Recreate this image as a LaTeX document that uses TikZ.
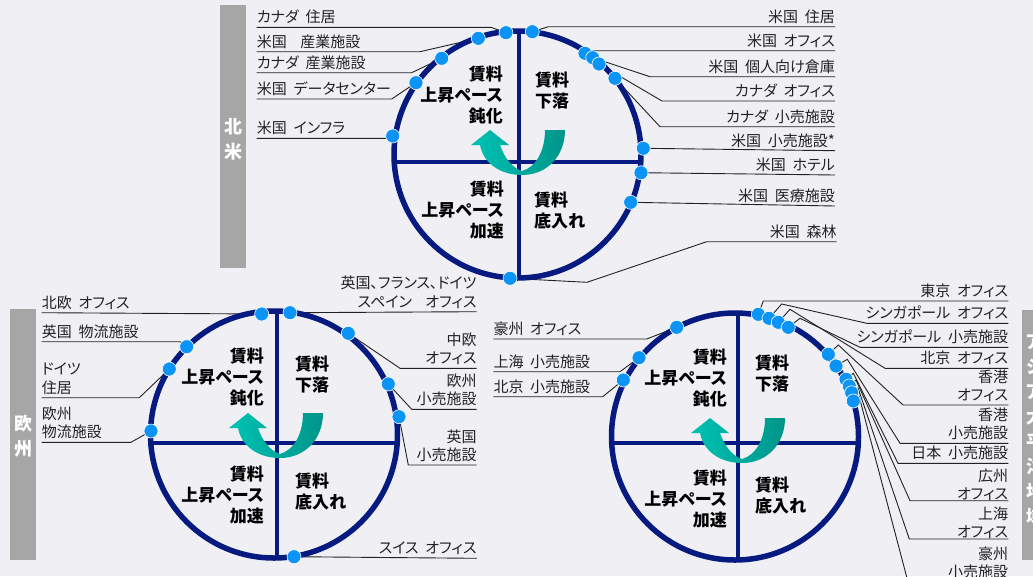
\documentclass[tikz,border=0pt]{standalone}
\usepackage{fontspec}
\setmainfont{Noto Sans CJK JP}[RawFeature=+palt,WordSpace=2]
\usepackage{tikz}
\definecolor{customNavy}{HTML}{061A80}
\definecolor{customDot}{HTML}{0B93F6}
\definecolor{customTealLight}{HTML}{00C2B3}
\definecolor{customTealDark}{HTML}{00958A}
\definecolor{customGrey}{HTML}{A6A6A6}
\definecolor{customBack}{HTML}{F0F0F4}
\definecolor{customText}{HTML}{222222}
\pgfdeclarelayer{back}
\pgfdeclarelayer{wires}
\pgfsetlayers{back,wires,main}

\begin{document}
\begin{tikzpicture} [
    x=1pt, y=-1pt,
    ring/.style={draw=customNavy, line width=5.5pt},
    axis/.style={draw=customNavy, line width=4.5pt},
    asset/.style={circle, fill=customDot, draw=white, line width=0.6pt, inner sep=0pt, minimum size=14pt},
    leader/.style={draw=customText, line width=0.9pt},
    leftLabel/.style={anchor=south west, inner xsep=0pt, inner ysep=4.5pt, text depth=0pt, align=left, font=\fontsize{15}{18.3}\selectfont, text=customText},
    rightLabel/.style={leftLabel, anchor=south east, align=right},
    phase/.style={font=\bfseries\fontsize{17}{21}\selectfont, inner sep=0pt, text=black},
    phaseLeft/.style={phase, anchor=east, align=right},
    phaseRight/.style={phase, anchor=west, align=left},
    regionName/.style={text=white, font=\bfseries\fontsize{18}{25}\selectfont, align=center, inner sep=0pt},
    turnArrow/.pic={
        \shade[left color=customTealLight, right color=customTealDark]
            (26,-30) -- (46,-30) .. controls (46,-4) and (28,15) .. (3,15)
            .. controls (-20,15) and (-36,2) .. (-39,-15) -- (-48,-15) -- (-29,-30)
            -- (-10,-15) -- (-19,-15) .. controls (-15,-3) and (-7,8) .. (3,11)
            .. controls (17,7) and (26,-9) .. (26,-30) -- cycle;
    }
]
    \useasboundingbox (0,0) rectangle (1033,576);
    \clip (0,0) rectangle (1033,576);
    \begin{pgfonlayer}{back}
        \fill[customBack] (0,0) rectangle (1033,576);
    \end{pgfonlayer}

    % north america
    \fill[customGrey] (220,5) rectangle (246,268);
    \node[regionName] (naName) at (233,139.5) {北\\米};

    \draw[ring] (517.5,154.5) circle [radius=123.5pt];
    \draw[axis] (519,31) -- (519,278);
    \draw[axis] (394.2,162) -- (640.8,162);
    \pic at (519,160) {turnArrow};

    \node[phaseLeft] (naSlow) at (503,95) {賃料\\上昇ペース\\鈍化};
    \node[phaseRight] (naFall) at (535,91) {賃料\\下落};
    \node[phaseLeft] (naFast) at (504,210) {賃料\\上昇ペース\\加速};
    \node[phaseRight] (naBottom) at (534,211) {賃料\\底入れ};

    \node[asset] (naDot1) at (506,32.7) {};
    \node[asset] (naDot2) at (478.3,38.3) {};
    \node[asset] (naDot3) at (441.7,58.3) {};
    \node[asset] (naDot4) at (416,82.7) {};
    \node[asset] (naDot5) at (392.7,136) {};
    \node[asset] (naDot6) at (532.3,31.7) {};
    \node[asset] (naDot7) at (585,53.3) {};
    \node[asset] (naDot8) at (592.7,57.7) {};
    \node[asset] (naDot9) at (599,64) {};
    \node[asset] (naDot10) at (615,78.3) {};
    \node[asset] (naDot11) at (643.3,148.3) {};
    \node[asset] (naDot12) at (641,172.7) {};
    \node[asset] (naDot13) at (630.7,202.3) {};
    \node[asset] (naDot14) at (510,278.3) {};

    \node[leftLabel] (naLabel1) at (256.7,27.3) {カナダ 住居};
    \node[leftLabel] (naLabel2) at (256.7,51.7) {米国\ \ 産業施設};
    \node[leftLabel] (naLabel3) at (256.7,72.7) {カナダ 産業施設};
    \node[leftLabel] (naLabel4) at (256.7,99) {米国 データセンター};
    \node[leftLabel] (naLabel5) at (256.7,138.3) {米国 インフラ};
    \node[rightLabel] (naLabel6) at (835,26.7) {米国 住居};
    \node[rightLabel] (naLabel7) at (835,50.7) {米国 オフィス};
    \node[rightLabel] (naLabel8) at (835,76.7) {米国 個人向け倉庫};
    \node[rightLabel] (naLabel9) at (835,101) {カナダ オフィス};
    \node[rightLabel] (naLabel10) at (835,126.7) {カナダ 小売施設};
    \node[rightLabel] (naLabel11) at (835,150.7) {米国 小売施設*};
    \node[rightLabel] (naLabel12) at (835,175) {米国 ホテル};
    \node[rightLabel] (naLabel13) at (835,206) {米国 医療施設};
    \node[rightLabel] (naLabel14) at (836.7,241.7) {米国 森林};

    \begin{pgfonlayer}{wires}
        \draw[leader] (naDot1.center) -- (491,27.3) -- (naLabel1.south west);
        \draw[leader] (naDot2.center) -- (420,51.7) -- (naLabel2.south west);
        \draw[leader] (naDot3.center) -- (411.7,72.7) -- (naLabel3.south west);
        \draw[leader] (naDot4.center) -- (391.7,99) -- (naLabel4.south west);
        \draw[leader] (naDot5.center) -- (386.7,138.3) -- (naLabel5.south west);
        \draw[leader] (naDot6.center) -- (548.3,26.7) -- (naLabel6.south east);
        \draw[leader] (naDot7.center) -- (590,50.7) -- (naLabel7.south east);
        \draw[leader] (naDot8.center) -- (650,76.7) -- (naLabel8.south east);
        \draw[leader] (naDot9.center) -- (662,101) -- (naLabel9.south east);
        \draw[leader] (naDot10.center) -- (660,126.7) -- (naLabel10.south east);
        \draw[leader] (naDot11.center) -- (naLabel11.south east);
        \draw[leader] (naDot12.center) -- (naLabel12.south east);
        \draw[leader] (naDot13.center) -- (naLabel13.south east);
        \draw[leader] (naDot14.center) -- (587,282.3) -- (706.7,241.7) -- (naLabel14.south east);
    \end{pgfonlayer}

    % europe
    \fill[customGrey] (10,309) rectangle (36,560);
    \node[regionName] (euName) at (23,436.5) {欧\\州};

    \draw[ring] (274,434.5) circle [radius=123.5pt];
    \draw[axis] (277,311) -- (277,558);
    \draw[axis] (150.8,443) -- (397.2,443);
    \pic at (277,443) {turnArrow};

    \node[phaseLeft] (euSlow) at (264,377) {賃料\\上昇ペース\\鈍化};
    \node[phaseRight] (euFall) at (295,375) {賃料\\下落};
    \node[phaseLeft] (euFast) at (264,495) {賃料\\上昇ペース\\加速};
    \node[phaseRight] (euBottom) at (295,492) {賃料\\底入れ};

    \node[asset] (euDot1) at (261.7,314) {};
    \node[asset] (euDot2) at (186.7,346.7) {};
    \node[asset] (euDot3) at (169.3,369) {};
    \node[asset] (euDot4) at (151,431) {};
    \node[asset] (euDot5) at (290,312.7) {};
    \node[asset] (euDot6) at (348.3,333.3) {};
    \node[asset] (euDot7) at (388.3,384) {};
    \node[asset] (euDot8) at (399,416.7) {};
    \node[asset] (euDot9) at (294,556.7) {};

    \node[leftLabel] (euLabel1) at (41.7,312.7) {北欧 オフィス};
    \node[leftLabel] (euLabel2) at (41.7,341.7) {英国 物流施設};
    \node[leftLabel] (euLabel3) at (41.7,397.7) {ドイツ\\住居};
    \node[leftLabel] (euLabel4) at (41.7,442.3) {欧州\\物流施設};
    \node[rightLabel] (euLabel5) at (476.7,311.7) {英国、フランス、ドイツ\\スペイン\ \ オフィス};
    \node[rightLabel] (euLabel6) at (476.7,368.3) {中欧\\オフィス};
    \node[rightLabel] (euLabel7) at (476.7,409.3) {欧州\\小売施設};
    \node[rightLabel] (euLabel8) at (476.7,465) {英国\\小売施設};
    \node[rightLabel] (euLabel9) at (476.7,558.3) {スイス オフィス};

    \begin{pgfonlayer}{wires}
        \draw[leader] (euDot1.center) -- (euLabel1.south west);
        \draw[leader] (euDot2.center) -- (180,341.7) -- (euLabel2.south west);
        \draw[leader] (euDot3.center) -- (139.3,397.7) -- (euLabel3.south west);
        \draw[leader] (euDot4.center) -- (131,442.3) -- (euLabel4.south west);
        \draw[leader] (euDot5.center) -- (euLabel5.south east);
        \draw[leader] (euDot6.center) -- (400,368.3) -- (euLabel6.south east);
        \draw[leader] (euDot7.center) -- (411.7,409.3) -- (euLabel7.south east);
        \draw[leader] (euDot8.center) -- (408.3,465) -- (euLabel8.south east);
        \draw[leader] (euDot9.center) -- (euLabel9.south east);
    \end{pgfonlayer}

    % asia pacific
    \fill[customGrey] (1022,310) rectangle (1048,560);
    \node[regionName] (asName) at (1035,430) {ア\\ジ\\ア\\太\\平\\洋\\地\\域};

    \draw[ring] (735,436.5) circle [radius=123.5pt];
    \draw[axis] (738,313) -- (738,560);
    \draw[axis] (611.7,443) -- (858.3,443);
    \pic at (739,448) {turnArrow};

    \node[phaseLeft] (asSlow) at (727,378) {賃料\\上昇ペース\\鈍化};
    \node[phaseRight] (asFall) at (755,374) {賃料\\下落};
    \node[phaseLeft] (asFast) at (727,499) {賃料\\上昇ペース\\加速};
    \node[phaseRight] (asBottom) at (755,496) {賃料\\底入れ};

    \node[asset] (asDot1) at (676.7,327.3) {};
    \node[asset] (asDot2) at (639,357.7) {};
    \node[asset] (asDot3) at (623.3,380) {};
    \node[asset] (asDot4) at (758.3,314.3) {};
    \node[asset] (asDot5) at (769,318.3) {};
    \node[asset] (asDot6) at (778.3,322.3) {};
    \node[asset] (asDot7) at (788.3,327.3) {};
    \node[asset] (asDot8) at (828.3,354.3) {};
    \node[asset] (asDot9) at (836,366) {};
    \node[asset] (asDot10) at (846,379.3) {};
    \node[asset] (asDot11) at (849.3,386) {};
    \node[asset] (asDot12) at (851.7,392.7) {};
    \node[asset] (asDot13) at (853.3,401) {};

    \node[leftLabel] (asLabel1) at (493.3,339) {豪州 オフィス};
    \node[leftLabel] (asLabel2) at (493.3,371.7) {上海 小売施設};
    \node[leftLabel] (asLabel3) at (493.3,396.7) {北京 小売施設};
    \node[rightLabel] (asLabel4) at (1008.3,301) {東京 オフィス};
    \node[rightLabel] (asLabel5) at (1008.3,323.3) {シンガポール オフィス};
    \node[rightLabel] (asLabel6) at (1008.3,347.3) {シンガポール 小売施設};
    \node[rightLabel] (asLabel7) at (1008.3,368.3) {北京 オフィス};
    \node[rightLabel] (asLabel8) at (1008.3,405) {香港\\オフィス};
    \node[rightLabel] (asLabel9) at (1008.3,443.3) {香港\\小売施設};
    \node[rightLabel] (asLabel10) at (1008.3,463.3) {日本 小売施設};
    \node[rightLabel, inner ysep=1pt] (asLabel11) at (1008.3,500.7) {広州\\オフィス};
    \node[rightLabel, inner ysep=1pt] (asLabel12) at (1008.3,539) {上海\\オフィス};
    \node[rightLabel] (asLabel13) at (1008.3,582) {豪州\\小売施設};

    \begin{pgfonlayer}{wires}
        \draw[leader] (asDot1.center) -- (646.7,339) -- (asLabel1.south west);
        \draw[leader] (asDot2.center) -- (620,371.7) -- (asLabel2.south west);
        \draw[leader] (asDot3.center) -- (602.7,396.7) -- (asLabel3.south west);
        \draw[leader] (asDot4.center) -- (763.3,301) -- (asLabel4.south east);
        \draw[leader] (asDot5.center) -- (781.7,304) -- (866.7,323.3) -- (asLabel5.south east);
        \draw[leader] (asDot6.center) -- (790,309.3) -- (885,368.3) -- (asLabel7.south east);
        \draw[leader] (asDot7.center) -- (800,318.3) -- (860,347.3) -- (asLabel6.south east);
        \draw[leader] (asDot8.center) -- (838.3,345) -- (903,405) -- (asLabel8.south east);
        \draw[leader] (asDot9.center) -- (847.3,359.3) -- (900,443.3) -- (asLabel9.south east);
        \draw[leader] (asDot10.center) -- (853.3,373.3) -- (898,463.3) -- (asLabel10.south east);
        \draw[leader] (asDot11.center) -- (856,380) -- (910,500.7) -- (asLabel11.south east);
        \draw[leader] (asDot12.center) -- (858,388) -- (909.3,539) -- (asLabel12.south east);
        \draw[leader] (asDot13.center) -- (859,396) -- (908,582) -- (asLabel13.south east);
    \end{pgfonlayer}

\end{tikzpicture}
\end{document}
